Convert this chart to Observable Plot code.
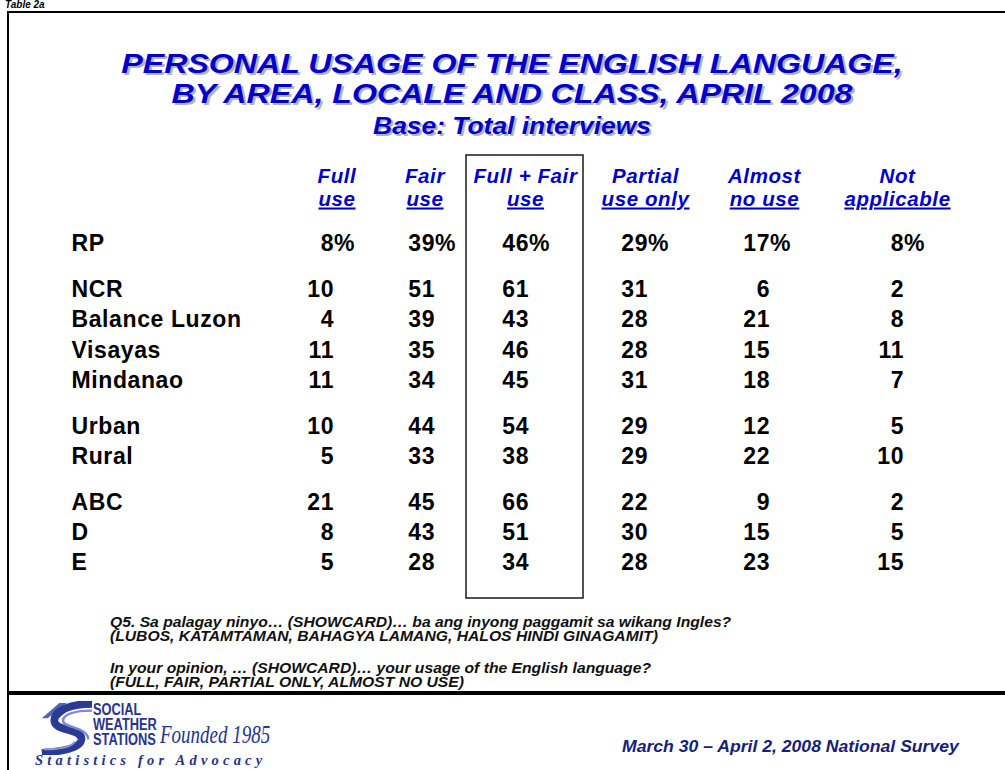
<!DOCTYPE html>
<html>
<head>
<meta charset="utf-8">
<script src="https://cdn.jsdelivr.net/npm/d3@7"></script>
<script src="https://cdn.jsdelivr.net/npm/@observablehq/plot@0.6"></script>
<style>
  html, body { margin: 0; padding: 0; background: #fff; }
  #page { position: relative; width: 1005px; height: 770px; overflow: hidden; background: #fff;
          font-family: "Liberation Sans", Arial, sans-serif; }
  .abs { position: absolute; white-space: nowrap; line-height: 1; }
  .title { left: 12px; width: 1000px; text-align: center; color: #0000CC; font-weight: bold; font-style: italic;
           text-shadow: 2px 2px 0 #b4b4b4; transform-origin: 50% 0; }
  .note { left: 110px; font-size: 14px; font-weight: bold; font-style: italic; color: #111;
          transform: scaleX(1.12); transform-origin: 0 0; line-height: 14px; }
  .logo { color: #26348c; font-weight: bold; font-size: 16px; line-height: 15px;
          transform: scaleX(0.8); transform-origin: 0 0; }
  #chart { position: absolute; left: 0; top: 154px; }
</style>
</head>
<body>
<div id="page">
  <!-- frame -->
  <div class="abs" style="left:7px; top:11px; width:1000px; height:2px; background:#000;"></div>
  <div class="abs" style="left:7px; top:11px; width:2px; height:770px; background:#000;"></div>
  <div class="abs" style="left:7px; top:691px; width:1000px; height:4px; background:#000;"></div>
  <div class="abs" style="left:5px; top:0px; font-size:10px; line-height:10px; font-weight:bold; font-style:italic;">Table 2a</div>

  <!-- titles -->
  <div class="abs title" style="top:49.1px; font-size:27px; line-height:30.2px; transform:scaleX(1.19);">PERSONAL USAGE OF THE ENGLISH LANGUAGE,<br>BY AREA, LOCALE AND CLASS, APRIL 2008</div>
  <div class="abs title" style="top:114.5px; font-size:24px; line-height:22px; transform:scaleX(1.1);">Base: Total interviews</div>

  <div id="chart"></div>

  <!-- question notes -->
  <div class="abs note" style="top:615px;">Q5. Sa palagay ninyo… (SHOWCARD)… ba ang inyong paggamit sa wikang Ingles?</div>
  <div class="abs note" style="top:629px;">(LUBOS, KATAMTAMAN, BAHAGYA LAMANG, HALOS HINDI GINAGAMIT)</div>
  <div class="abs note" style="top:661px;">In your opinion, … (SHOWCARD)… your usage of the English language?</div>
  <div class="abs note" style="top:675px;">(FULL, FAIR, PARTIAL ONLY, ALMOST NO USE)</div>

  <!-- footer -->
  <svg class="abs" style="left:38px; top:701px;" width="56" height="54" viewBox="0 0 58 54">
    <path d="M30 1 L22 1 L4 17 L10 17 Z" fill="#5664b4"/>
    <path d="M40 1 L34 1 L14 19 L19 19 Z" fill="#3a48a0"/>
    <path d="M56 2 C 36 2, 16 8, 17 20 C 18 31, 46 27, 45 39 C 44 48, 26 51, 4 53"
          fill="none" stroke="#2b3a94" stroke-width="8"/>
    <path d="M56 9 C 40 9, 25 12, 26 20 C 27 27, 52 26, 52 39"
          fill="none" stroke="#7d8ad0" stroke-width="2.5"/>
    <path d="M38 41 C 35 47, 22 49, 6 49" fill="none" stroke="#8e9ad8" stroke-width="2"/>
  </svg>
  <div class="abs logo" style="left:93px; top:702px;">SOCIAL</div>
  <div class="abs logo" style="left:93px; top:717px;">WEATHER</div>
  <div class="abs logo" style="left:93px; top:732px;">STATIONS</div>
  <div class="abs" style="left:160px; top:722px; font-family:'Liberation Serif', serif; font-style:italic; font-size:25px; line-height:25px; color:#26348c; transform:scaleX(0.76); transform-origin:0 0;">Founded 1985</div>
  <div class="abs" style="left:35px; top:753px; font-family:'Liberation Serif', serif; font-weight:bold; font-style:italic; font-size:14.5px; line-height:15px; letter-spacing:4.2px; color:#26348c;">Statistics for Advocacy</div>
  <div class="abs" style="left:622px; top:738.5px; font-size:16px; font-weight:bold; font-style:italic; color:#16207a; transform:scaleX(1.1); transform-origin:0 0;">March 30 – April 2, 2008 National Survey</div>
</div>

<script>
// ---------- data ----------
const rows = ["RP", "NCR", "Balance Luzon", "Visayas", "Mindanao", "Urban", "Rural", "ABC", "D", "E"];
const rowGroup = [0, 1, 1, 1, 1, 2, 2, 3, 3, 3];
const headerTop = ["Full", "Fair", "Full + Fair", "Partial", "Almost", "Not"];
const headerBottom = ["use", "use", "use", "use only", "no use", "applicable"];
const fullUse        = [8, 10, 4, 11, 11, 10, 5, 21, 8, 5];
const fairUse        = [39, 51, 39, 35, 34, 44, 33, 45, 43, 28];
const fullPlusFair   = [46, 61, 43, 46, 45, 54, 38, 66, 51, 34];
const partialUseOnly = [29, 31, 28, 28, 31, 29, 29, 22, 30, 28];
const almostNoUse    = [17, 6, 21, 15, 18, 12, 22, 9, 15, 23];
const notApplicable  = [8, 2, 8, 11, 7, 5, 10, 2, 5, 15];
const percentRow = "RP";

// ---------- layout ----------
const series = [fullUse, fairUse, fullPlusFair, partialUseOnly, almostNoUse, notApplicable];
const colRight = [333, 434, 528, 647, 769, 903];
const colCenter = [336.5, 424.5, 525, 645, 764, 897];
const labelX = 71;
const boxCol = 2;
const boxX = [466, 583];
const LS = 0.6; // letter spacing

const rowData = rows.map((r, i) => ({row: r, slot: i + 0.5 * rowGroup[i]}));
const cells = [];
rows.forEach((r, i) => series.forEach((s, j) => cells.push({row: r, slot: i + 0.5 * rowGroup[i], col: j, value: s[i]})));
const headers = headerTop.map((t, j) => ({top: t, bottom: headerBottom[j], col: j}));

const blue = "#0000CC";
const svg = Plot.plot({
  width: 1005,
  height: 445,
  marginTop: 1, marginBottom: 1, marginLeft: 0, marginRight: 0,
  x: {type: "linear", domain: [0, 1005], range: [0, 1005], axis: null},
  y: {type: "linear", domain: [0, 10.5], range: [96.7, 415.9], axis: null},
  style: {background: "transparent", overflow: "visible", fontFamily: "'Liberation Sans', Arial, sans-serif", letterSpacing: LS + "px"},
  marks: [
    Plot.rect([boxCol], {x1: boxX[0], x2: boxX[1], fill: "none", stroke: "#1a1a1a", strokeWidth: 1.5}),
    Plot.text(headers, {x: d => colCenter[d.col], text: "top", frameAnchor: "top", lineAnchor: "bottom", dy: 27,
      textAnchor: "middle", fill: blue, fontSize: 20.5, fontWeight: "bold", fontStyle: "italic"}),
    Plot.text(headers, {x: d => colCenter[d.col], text: "bottom", frameAnchor: "top", lineAnchor: "bottom", dy: 50,
      textAnchor: "middle", fill: blue, fontSize: 20.5, fontWeight: "bold", fontStyle: "italic"}),
    Plot.text(rowData, {x: labelX, y: "slot", text: "row", textAnchor: "start", lineAnchor: "bottom",
      fill: "#000", fontSize: 23, fontWeight: "bold"}),
    Plot.text(cells, {x: d => colRight[d.col] + LS, y: "slot", text: d => String(d.value), textAnchor: "end", lineAnchor: "bottom",
      fill: "#000", fontSize: 23, fontWeight: "bold"}),
    Plot.text(cells.filter(d => d.row === percentRow), {x: d => colRight[d.col] + LS, y: "slot", text: () => "%", textAnchor: "start", lineAnchor: "bottom",
      fill: "#000", fontSize: 23, fontWeight: "bold"})
  ]
});
// underline the second header line
const groups = svg.querySelectorAll("g[aria-label='text']");
if (groups[1]) groups[1].querySelectorAll("text").forEach(t => {
  t.style.textDecoration = "underline";
  t.style.textDecorationThickness = "2.5px";
  t.style.textUnderlineOffset = "3px";
});
document.getElementById("chart").appendChild(svg);
</script>
</body>
</html>
